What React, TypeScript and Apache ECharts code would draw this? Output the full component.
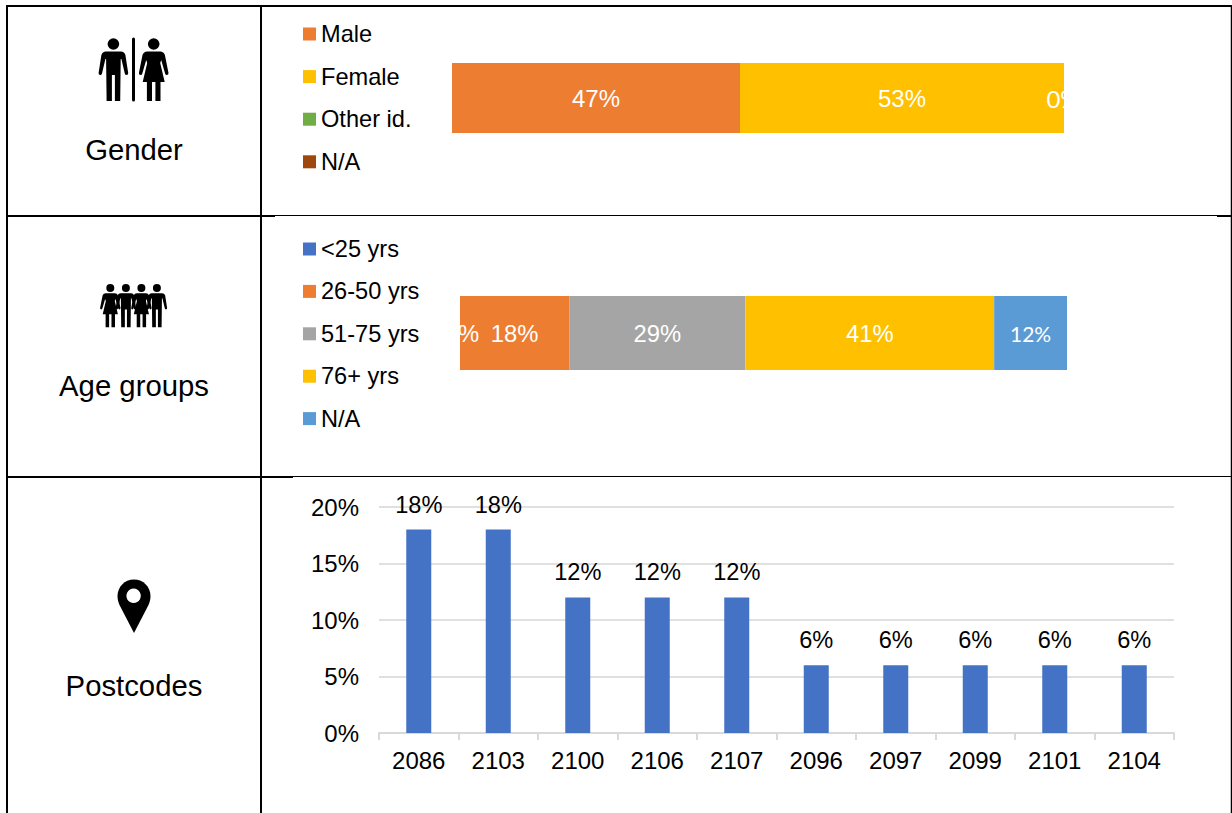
import React, { useEffect, useRef } from "react";
import * as echarts from "echarts";

const genderNames = ["Male", "Female", "Other id.", "N/A"];
const genderValues = [47.06, 52.94, 0, 0];
const genderColors = ["#ED7D31", "#FFC000", "#70AD47", "#9E480E"];

const ageNames = ["<25 yrs", "26-50 yrs", "51-75 yrs", "76+ yrs", "N/A"];
const ageValues = [0, 18, 29, 41, 12];
const ageColors = ["#4472C4", "#ED7D31", "#A5A5A5", "#FFC000", "#5B9BD5"];

const postcodes = ["2086", "2103", "2100", "2106", "2107", "2096", "2097", "2099", "2101", "2104"];
const postcodeValues = [18, 18, 12, 12, 12, 6, 6, 6, 6, 6];

const HEAD = "M -5.8 0 A 5.8 5.8 0 1 1 5.8 0 A 5.8 5.8 0 1 1 -5.8 0 Z";
const MAN =
  HEAD +
  " M -7.5 7.5 L 7.5 7.5 Q 11 7.5 12 11 L 14.8 29 Q 15 31 13 31 Q 11.8 31 11.4 29.5 L 8 15 L 7.3 15 L 6.8 57 L 1.5 57 L 1.5 31 L -1.5 31 L -1.5 57 L -6.8 57 L -7.3 15 L -8 15 L -11.4 29.5 Q -11.8 31 -13 31 Q -15 31 -14.8 29 L -12 11 Q -11 7.5 -7.5 7.5 Z";
const WOMAN =
  HEAD +
  " M -6.5 7.5 L 6.5 7.5 Q 10 7.5 11.2 11 L 14.8 29 Q 15 31 13 31 Q 11.8 31 11.4 29.5 L 7.5 16 L 6.5 19 L 11 38 L 6.8 38 L 6.8 57 L 1.7 57 L 1.7 38 L -1.7 38 L -1.7 57 L -6.8 57 L -6.8 38 L -11 38 L -6.5 19 L -7.5 16 L -11.4 29.5 Q -11.8 31 -13 31 Q -15 31 -14.8 29 L -11.2 11 Q -10 7.5 -6.5 7.5 Z";
const PIN =
  "M 0 -16.5 C 9.5 -16.5 16.5 -9 16.5 0 C 16.5 3.5 15.5 6.5 14.5 9 L 0 37 L -14.5 9 C -15.5 6.5 -16.5 3.5 -16.5 0 C -16.5 -9 -9.5 -16.5 0 -16.5 Z";

echarts.graphic.registerShape("manIcon", echarts.graphic.extendPath(MAN as any, {}) as any);
echarts.graphic.registerShape("womanIcon", echarts.graphic.extendPath(WOMAN as any, {}) as any);
echarts.graphic.registerShape("pinIcon", echarts.graphic.extendPath(PIN as any, {}) as any);

const FONT = "'Liberation Sans', Arial, sans-serif";

function rule(x1: number, y1: number, x2: number, y2: number, lineWidth: number) {
  return { type: "line", z: 30, silent: true, shape: { x1, y1, x2, y2 }, style: { stroke: "#000", lineWidth } };
}
function icon(type: string, x: number, y: number, scale: number) {
  return { type, x, y, scaleX: scale, scaleY: scale, z: 30, silent: true, style: { fill: "#000" } };
}
function caption(text: string, y: number) {
  return {
    type: "text", x: 134, y, z: 30, silent: true,
    style: { text, fill: "#000", font: `29.3px ${FONT}`, align: "center", verticalAlign: "middle" },
  };
}
function mask(x: number, y: number, width: number, height: number) {
  return { type: "rect", z: 20, silent: true, shape: { x, y, width, height }, style: { fill: "#fff" } };
}
function legend(names: string[], colors: string[], top: number, gap: number) {
  return {
    orient: "vertical", left: 303, top, padding: 0, itemWidth: 13, itemHeight: 13, itemGap: gap,
    icon: "rect", selectedMode: false,
    textStyle: { color: "#000", fontFamily: FONT, fontSize: 23.6 },
    data: names.map((name, i) => ({ name, itemStyle: { color: colors[i] } })),
  };
}

export default function App() {
  const ref = useRef<HTMLDivElement>(null);
  useEffect(() => {
    const chart = echarts.init(ref.current!, undefined, { renderer: "svg" });
    const stackedLabel = (show: boolean, extra: object = {}) => ({
      show, position: "inside", formatter: (p: any) => `${Math.round(p.value)}%`,
      color: "#fff", fontFamily: FONT, fontSize: 24, ...extra,
    });
    const genderSeries = genderNames.map((name, i) => ({
      type: "bar", name, stack: "gender", xAxisIndex: 0, yAxisIndex: 0, barWidth: "100%",
      data: [genderValues[i]],
      itemStyle: { color: genderColors[i] },
      label:
        name === "Other id."
          ? stackedLabel(true, { fontFamily: "Lato", fontSize: 24, offset: [-1, 0] })
          : stackedLabel(genderValues[i] > 0),
    }));
    const ageSeries = ageNames.map((name, i) => ({
      type: "bar", name, stack: "age", xAxisIndex: 1, yAxisIndex: 1, barWidth: "100%",
      data: [ageValues[i]],
      itemStyle: { color: ageColors[i] },
      label:
        i === 4
          ? stackedLabel(true, { fontFamily: "Lato", fontSize: 21 })
          : stackedLabel(true, { fontSize: 23.8, offset: i === 0 ? [2, 0] : [0, 0] }),
    }));
    const hiddenValue = (gridIndex: number) => ({ type: "value", gridIndex, min: 0, max: 100, show: false });
    const hiddenCat = (gridIndex: number) => ({ type: "category", gridIndex, data: [""], show: false });
    chart.setOption({
      animation: false,
      backgroundColor: "#fff",
      grid: [
        { left: 452, top: 63, width: 612, height: 70 },
        { left: 460, top: 296, width: 607, height: 74 },
        { left: 379, top: 507, width: 795, height: 226 },
      ],
      legend: [legend(genderNames, genderColors, 22, 18.6), legend(ageNames, ageColors, 237, 18.4)],
      xAxis: [
        hiddenValue(0),
        hiddenValue(1),
        {
          type: "category", gridIndex: 2, data: postcodes, boundaryGap: true,
          axisLine: { show: true, lineStyle: { color: "#d9d9d9", width: 2 } },
          axisTick: { show: true, alignWithLabel: false, interval: 0, length: 7, lineStyle: { color: "#d9d9d9", width: 2 } },
          axisLabel: { color: "#000", fontFamily: FONT, fontSize: 24, margin: 15, interval: 0 },
        },
      ],
      yAxis: [
        hiddenCat(0),
        hiddenCat(1),
        {
          type: "value", gridIndex: 2, min: 0, max: 20, interval: 5,
          axisLine: { show: false }, axisTick: { show: false },
          splitLine: { lineStyle: { color: "#e0e0e0", width: 2 } },
          axisLabel: { formatter: "{value}%", color: "#000", fontFamily: FONT, fontSize: 24, margin: 20 },
        },
      ],
      series: [
        ...genderSeries,
        ...ageSeries,
        {
          type: "bar", name: "Postcodes", xAxisIndex: 2, yAxisIndex: 2, barWidth: 25, z: 5,
          data: postcodeValues,
          itemStyle: { color: "#4472C4" },
          label: { show: true, position: "top", distance: 13, formatter: "{c}%", color: "#000", fontFamily: FONT, fontSize: 23.6 },
        },
      ],
      graphic: [
        mask(1064, 80, 40, 40),
        mask(425, 315, 35, 40),
        rule(7, 6, 1232, 6, 2),
        rule(7, 5, 7, 813, 2),
        rule(261, 6, 261, 813, 2),
        rule(1231.5, 5, 1231.5, 813, 1.5),
        rule(7, 216, 275, 216, 2),
        rule(275, 215.5, 1217, 215.5, 1),
        rule(1217, 216, 1232, 216, 2),
        rule(7, 477, 293, 477, 2),
        rule(293, 476.5, 1232, 476.5, 1),
        icon("manIcon", 113.4, 44, 1),
        icon("womanIcon", 153.7, 44, 1),
        { type: "rect", z: 30, silent: true, shape: { x: 132, y: 37.5, width: 3, height: 64, r: 1.5 }, style: { fill: "#000" } },
        icon("womanIcon", 110.3, 288, 0.69),
        icon("manIcon", 125.9, 288, 0.69),
        icon("womanIcon", 141.4, 288, 0.69),
        icon("manIcon", 156.9, 288, 0.69),
        icon("pinIcon", 134, 596, 1),
        { type: "circle", z: 31, silent: true, shape: { cx: 133.6, cy: 595.8, r: 7.2 }, style: { fill: "#fff" } },
        caption("Gender", 149.5),
        caption("Age groups", 385.5),
        caption("Postcodes", 685.5),
      ],
    } as any);
    return () => chart.dispose();
  }, []);
  return <div ref={ref} style={{ position: "absolute", left: 0, top: 0, width: 1232, height: 813 }} />;
}
